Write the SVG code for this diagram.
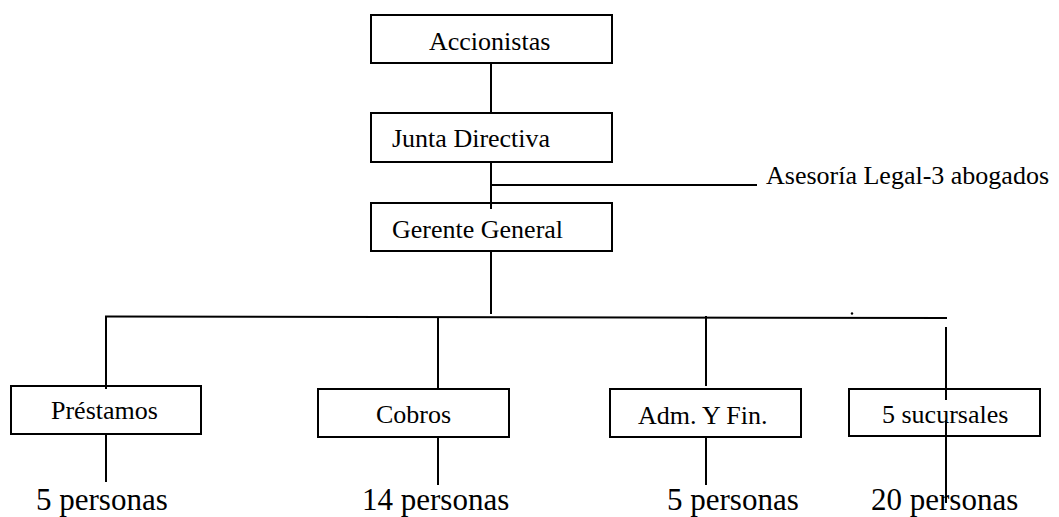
<svg xmlns="http://www.w3.org/2000/svg" width="1059" height="517" viewBox="0 0 1059 517">
<style>
.box{fill:#fff;stroke:#000;stroke-width:2}
.t{font-family:'Liberation Serif',Times,'DejaVu Serif',serif;font-size:26px;fill:#000}
.p{font-family:'Liberation Serif',Times,'DejaVu Serif',serif;font-size:31px;fill:#000}
.ln{stroke:#000;stroke-width:2;fill:none}
</style>
<rect width="1059" height="517" fill="#fff"/>
<g id="accionistas"><rect class="box" x="371" y="15" width="241" height="48"/><text class="t" font-family="Liberation Serif" x="429" y="50">Accionistas</text></g>
<g id="junta"><rect class="box" x="371" y="113" width="241" height="49"/><text class="t" x="392" y="147">Junta Directiva</text></g>
<g id="gerente"><rect class="box" x="371" y="203" width="241" height="48"/><text class="t" x="392" y="238">Gerente General</text></g>
<g id="asesoria"><text class="t" x="766" y="184">Asesoría Legal-3 abogados</text></g>
<g id="prestamos"><rect class="box" x="11" y="386" width="190" height="48"/><text class="t" x="51" y="419">Préstamos</text></g>
<g id="cobros"><rect class="box" x="318" y="389" width="191" height="48"/><text class="t" x="376" y="423">Cobros</text></g>
<g id="adm"><rect class="box" x="610" y="389" width="191" height="48"/><text class="t" x="638" y="424">Adm. Y Fin.</text></g>
<g id="sucursales"><rect class="box" x="849" y="389" width="191" height="47"/><text class="t" x="882" y="423">5 sucursales</text></g>
<g id="personas1"><text class="p" x="36" y="510">5 personas</text></g>
<g id="personas2"><text class="p" x="362" y="510">14 personas</text></g>
<g id="personas3"><text class="p" x="667" y="510">5 personas</text></g>
<g id="personas4"><text class="p" x="871" y="510">20 personas</text></g>
<g id="connectors">
<line class="ln" x1="491" y1="63" x2="491" y2="113"/>
<line class="ln" x1="491" y1="162" x2="491" y2="209"/>
<line class="ln" x1="491" y1="185" x2="757" y2="185"/>
<line class="ln" x1="491" y1="251" x2="491" y2="314"/>
<line class="ln" x1="105" y1="316.5" x2="947" y2="318"/>
<line class="ln" x1="106" y1="316" x2="106" y2="389"/>
<line class="ln" x1="438" y1="317" x2="438" y2="389"/>
<line class="ln" x1="706" y1="316" x2="706" y2="386"/>
<line class="ln" x1="946" y1="327" x2="946" y2="400"/>
<line class="ln" x1="106" y1="434" x2="106" y2="482"/>
<line class="ln" x1="438" y1="437" x2="438" y2="485"/>
<line class="ln" x1="706" y1="437" x2="706" y2="485"/>
<line class="ln" x1="946" y1="420" x2="946" y2="503"/>
<circle cx="852" cy="313.5" r="1.2" fill="#000"/>
</g>
</svg>
